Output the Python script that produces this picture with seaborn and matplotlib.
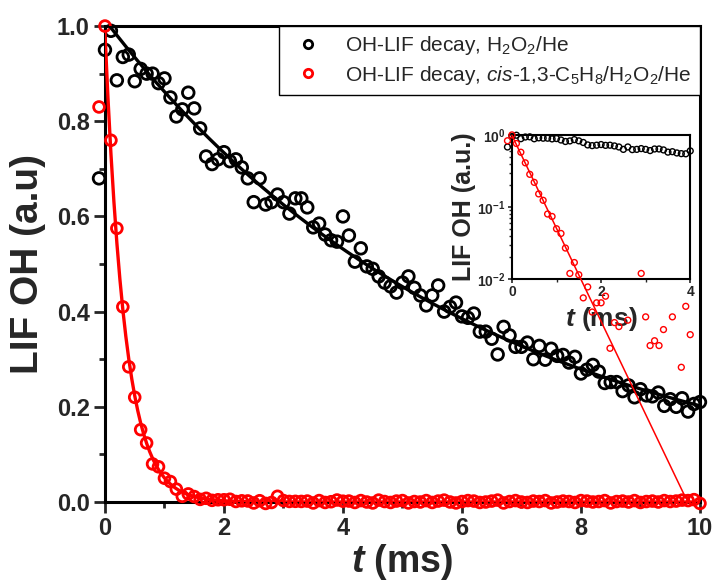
import numpy as np
import seaborn as sns
import matplotlib.pyplot as plt
from matplotlib.lines import Line2D
from matplotlib.ticker import MultipleLocator, FixedLocator, FormatStrFormatter, NullFormatter

# time grid (ms), one sample every 0.1 ms
t_ms = np.round(np.arange(-1, 101) * 0.1, 1)

# OH-LIF decay, H2O2/He
lif_h2o2 = np.array([
    0.68, 0.95, 0.99, 0.886, 0.935, 0.94, 0.884, 0.91, 0.90, 0.90,
    0.88, 0.89, 0.85, 0.81, 0.825, 0.86, 0.827, 0.785, 0.726, 0.71,
    0.72, 0.735, 0.716, 0.72, 0.703, 0.68, 0.63, 0.68, 0.625, 0.63,
    0.646, 0.63, 0.606, 0.638, 0.638, 0.619, 0.577, 0.585, 0.562, 0.55,
    0.547, 0.60, 0.56, 0.505, 0.533, 0.495, 0.49, 0.474, 0.461, 0.453,
    0.44, 0.461, 0.474, 0.45, 0.434, 0.413, 0.434, 0.455, 0.40, 0.41,
    0.419, 0.39, 0.387, 0.396, 0.358, 0.358, 0.343, 0.31, 0.368, 0.35,
    0.326, 0.326, 0.335, 0.30, 0.328, 0.299, 0.322, 0.307, 0.309, 0.293,
    0.305, 0.27, 0.278, 0.288, 0.274, 0.25, 0.252, 0.252, 0.233, 0.245,
    0.22, 0.237, 0.224, 0.222, 0.23, 0.202, 0.216, 0.20, 0.218, 0.19,
    0.206, 0.21,
])

# OH-LIF decay, cis-1,3-C5H8/H2O2/He
lif_c5h8 = np.array([
    0.83, 1.0, 0.76, 0.575, 0.41, 0.284, 0.22, 0.152, 0.124, 0.08,
    0.074, 0.05, 0.043, 0.027, 0.012, 0.017, 0.0115, 0.0055, 0.0078, 0.0035,
    0.0047, 0.0047, 0.0058, 0.0011, 0.0025, 0.0022, -0.002, 0.0027, -0.003, -0.001,
    0.012, 0.003, 0.0012, 0.0014, 0.0012, 0.002, -0.002, 0.003, -0.001, 0.0006,
    0.0042, 0.0017,
    0.002, -0.001, 0.003, 0.000, -0.002, 0.004, 0.001, -0.001, 0.002, 0.003,
    -0.002, 0.001, 0.000, 0.003, -0.001, 0.002, 0.004, 0.000, -0.002, 0.001,
    0.003, 0.002, -0.001, 0.000, 0.002, 0.004, -0.002, 0.001, 0.003, 0.000,
    -0.001, 0.002, 0.001, 0.003, -0.002, 0.000, 0.002, 0.001, -0.001, 0.003,
    0.002, 0.000, 0.001, 0.003, -0.002, 0.001, 0.002, 0.000, 0.003, -0.001,
    0.001, 0.002, 0.000, 0.003, 0.001, 0.002, 0.004, 0.003, 0.005, -0.003,
])

labels = [
    r"OH-LIF decay, H$_\mathrm{2}$O$_\mathrm{2}$/He",
    r"OH-LIF decay, $\mathit{cis}$-1,3-C$_\mathrm{5}$H$_\mathrm{8}$/H$_\mathrm{2}$O$_\mathrm{2}$/He",
]

# single exponential fits (log-linear least squares)
m = t_ms >= 0
pb = np.polyfit(t_ms[m], np.log(lif_h2o2[m]), 1)
m = (t_ms >= 0) & (t_ms <= 1.2) & (lif_c5h8 > 0)
pr = np.polyfit(t_ms[m], np.log(lif_c5h8[m]), 1)
t_fit = np.linspace(0, 10, 400)
fit_black = np.exp(np.polyval(pb, t_fit))
fit_red = np.exp(np.polyval(pr, t_fit))
t_fit_in = np.linspace(0, 3.9, 100)
fit_red_in = np.exp(np.polyval(pr, t_fit_in))

sns.set_theme(style="ticks")
plt.rcParams["font.family"] = ["Liberation Sans", "DejaVu Sans"]
plt.rcParams.update({
    "font.weight": "bold",
    "mathtext.fontset": "custom",
    "mathtext.rm": "Liberation Sans:normal",
    "mathtext.it": "Liberation Sans:italic:normal",
    "mathtext.bf": "Liberation Sans:bold",
    "mathtext.sf": "Liberation Sans:bold:italic",
    "mathtext.default": "regular",
    "axes.linewidth": 2.2,
})

fig = plt.figure(figsize=(7.16, 5.84), dpi=100)
ax = fig.add_axes([0.1466, 0.1404, 0.831, 0.815])

sns.scatterplot(x=t_ms, y=lif_h2o2, ax=ax, marker="o", s=70, facecolor="none",
                edgecolor="black", linewidth=2, clip_on=False, zorder=3)
sns.scatterplot(x=t_ms, y=lif_c5h8, ax=ax, marker="o", s=60, facecolor="none",
                edgecolor="red", linewidth=2, clip_on=False, zorder=3)
sns.lineplot(x=t_fit, y=fit_black, ax=ax, color="black", linewidth=2.4, zorder=4)
sns.lineplot(x=t_fit, y=fit_red, ax=ax, color="red", linewidth=2.4, zorder=4)

ax.set_xlim(0, 10)
ax.set_ylim(0, 1.0)
ax.xaxis.set_major_locator(MultipleLocator(2))
ax.xaxis.set_minor_locator(MultipleLocator(1))
ax.yaxis.set_major_locator(MultipleLocator(0.2))
ax.yaxis.set_minor_locator(MultipleLocator(0.1))
ax.yaxis.set_major_formatter(FormatStrFormatter("%.1f"))
ax.tick_params(which="major", direction="out", length=8, width=2, labelsize=17, pad=3)
ax.tick_params(which="minor", direction="out", length=4.5, width=2)
for sp in ax.spines.values():
    sp.set_visible(True)
    sp.set_linewidth(2.2)
    sp.set_color("black")
ax.set_xlabel(r"$\mathsf{t}$ (ms)", fontsize=27, fontweight="bold", labelpad=1)
ax.set_ylabel("LIF OH (a.u)", fontsize=28, fontweight="bold", labelpad=8)

handles = [
    Line2D([], [], ls="none", marker="o", ms=6, mfc="none", mec="black", mew=2),
    Line2D([], [], ls="none", marker="o", ms=6, mfc="none", mec="red", mew=2),
]
leg = ax.legend(handles, labels, loc="upper right", bbox_to_anchor=(1, 1),
                borderaxespad=0, frameon=True, fancybox=False, framealpha=1,
                edgecolor="black", prop={"size": 15, "weight": "normal"},
                handletextpad=0.8, borderpad=0.4, labelspacing=0.3, handlelength=2.0)
leg.get_frame().set_linewidth(1)

# inset, log scale
axin = fig.add_axes([0.715, 0.522, 0.249, 0.247])
m_in = t_ms <= 4.0
mr_in = m_in & (lif_c5h8 > 0)
sns.scatterplot(x=t_ms[m_in], y=lif_h2o2[m_in], ax=axin, marker="o", s=18,
                facecolor="none", edgecolor="black", linewidth=1, clip_on=False, zorder=3)
sns.scatterplot(x=t_ms[mr_in], y=lif_c5h8[mr_in], ax=axin, marker="o", s=18,
                facecolor="none", edgecolor="red", linewidth=1, clip_on=False, zorder=3)
sns.lineplot(x=t_fit_in, y=fit_red_in, ax=axin, color="red", linewidth=1.1,
             clip_on=False, zorder=4)
axin.set_yscale("log")
axin.set_xlim(0, 4)
axin.set_ylim(1e-2, 1.0)
axin.xaxis.set_major_locator(FixedLocator([0, 2, 4]))
axin.xaxis.set_minor_locator(FixedLocator([1, 3]))
axin.yaxis.set_major_locator(FixedLocator([1e-2, 1e-1, 1]))
axin.set_yticklabels([r"$\mathbf{10^{-2}}$", r"$\mathbf{10^{-1}}$", r"$\mathbf{10^{0}}$"])
axin.yaxis.set_minor_locator(FixedLocator([k * 10.0 ** e for e in (-2, -1) for k in range(2, 10)]))
axin.yaxis.set_minor_formatter(NullFormatter())
axin.tick_params(which="major", direction="out", length=3, width=1.2, labelsize=10, pad=1.5)
axin.tick_params(which="minor", direction="out", length=2, width=1)
for sp in axin.spines.values():
    sp.set_visible(True)
    sp.set_linewidth(1.5)
    sp.set_color("black")
axin.set_xlabel(r"$\mathsf{t}$ (ms)", fontsize=19, fontweight="bold", labelpad=4)
axin.set_ylabel("LIF OH (a.u.)", fontsize=18, fontweight="bold", labelpad=1)

plt.savefig("out.png", dpi=100)
